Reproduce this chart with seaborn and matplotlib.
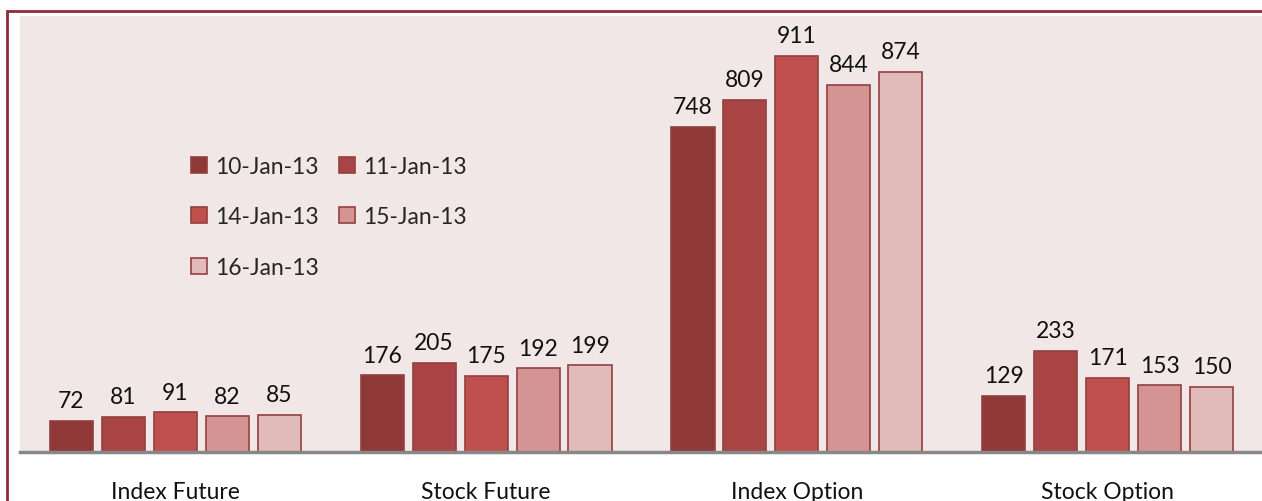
import pandas as pd
import seaborn as sns
import matplotlib.pyplot as plt
from matplotlib.patches import Rectangle

categories = ["Index Future", "Stock Future", "Index Option", "Stock Option"]
dates = ["10-Jan-13", "11-Jan-13", "14-Jan-13", "15-Jan-13", "16-Jan-13"]
values_10jan = [72, 176, 748, 129]
values_11jan = [81, 205, 809, 233]
values_14jan = [91, 175, 911, 171]
values_15jan = [82, 192, 844, 153]
values_16jan = [85, 199, 874, 150]

colors = ["#8E3837", "#A84544", "#C0504D", "#D49493", "#E1BABA"]

series = [values_10jan, values_11jan, values_14jan, values_15jan, values_16jan]
rows = []
for d, vals in zip(dates, series):
    for c, v in zip(categories, vals):
        rows.append({"category": c, "date": d, "value": v})
df = pd.DataFrame(rows)

sns.set_theme(style="white")
plt.rcParams["font.family"] = ["Lato", "DejaVu Sans"]

fig = plt.figure(figsize=(12.62, 5.02), dpi=100)
ax = fig.add_axes([20 / 1262, 49 / 502, 1243 / 1262, 436 / 502])
ax.set_facecolor("#F2E7E7")

sns.barplot(data=df, x="category", y="value", hue="date", hue_order=dates,
            order=categories, palette=colors, saturation=1, width=0.836, gap=0.17,
            edgecolor="#93403F", linewidth=1.2, ax=ax)

for cont in ax.containers:
    ax.bar_label(cont, padding=7, fontsize=16.5, color="#111111")

ax.set_ylim(0, 1002)
ax.set_xlim(-0.5, 3.5)
ax.set_xlabel("")
ax.set_ylabel("")
ax.set_yticks([])
ax.tick_params(axis="x", length=0, pad=21, labelsize=16.5, labelcolor="#111111")
for s in ["top", "right", "left"]:
    ax.spines[s].set_visible(False)
ax.spines["bottom"].set_color("#888888")
ax.spines["bottom"].set_linewidth(2.5)

# legend filled row by row like the original
handles, labels = ax.get_legend_handles_labels()
order = [0, 2, 4, 1, 3]
leg = ax.legend([handles[i] for i in order], [labels[i] for i in order],
                ncol=2, loc="upper left",
                bbox_to_anchor=(170 / 1262, 1 - 136 / 502),
                bbox_transform=fig.transFigure, frameon=False,
                fontsize=16.5, handlelength=0.7, handleheight=0.7,
                handletextpad=0.35, columnspacing=0.9, labelspacing=1.3)

# outer chart frame
fig.patches.append(Rectangle((7 / 1262, -0.1), 1.2, (502 - 12) / 502 + 0.1,
                             transform=fig.transFigure, fill=False,
                             edgecolor="#8E2A3E", linewidth=2, zorder=0))

fig.savefig("out.png", dpi=100)
